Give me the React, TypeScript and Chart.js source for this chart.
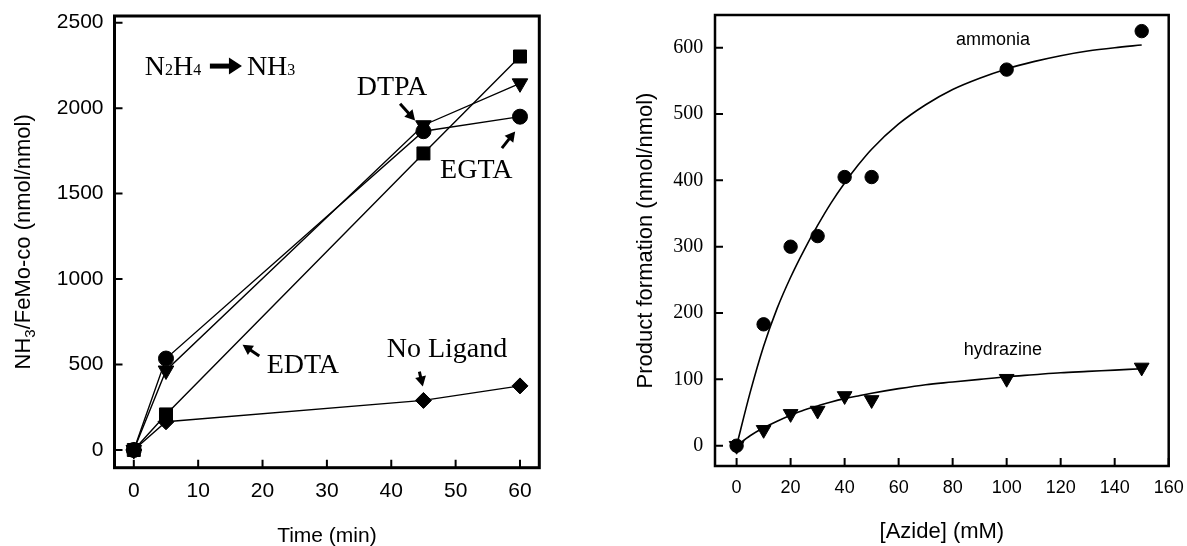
import React, { useEffect, useRef } from 'react';
import { Chart, registerables } from 'chart.js';

Chart.register(...registerables);

// ---------- Left panel data: N2H4 -> NH3 ----------
const TIME_MIN = [0, 5, 45, 60];
const EGTA = [0, 535, 1865, 1950];
const DTPA = [0, 465, 1900, 2145];
const EDTA = [0, 208, 1735, 2302];
const NO_LIGAND = [0, 165, 290, 375];
const LEFT_X_TICKS = [0, 10, 20, 30, 40, 50, 60];
const LEFT_Y_TICKS = [0, 500, 1000, 1500, 2000, 2500];

// ---------- Right panel data: azide ----------
const AZIDE_MM = [0, 10, 20, 30, 40, 50, 100, 150];
const AMMONIA = [0, 183, 300, 316, 405, 405, 567, 625];
const HYDRAZINE = [0, 24, 48, 53, 75, 69, 101, 118];
const FIT_AZIDE = [0, 5, 10, 15, 20, 25, 30, 35, 40, 45, 50, 60, 70, 80, 90, 100, 110, 120, 130, 140, 150];
const AMMONIA_FIT = [0, 80, 150, 207, 254, 295, 332, 366, 396, 423, 447, 485, 514, 537, 554, 568, 579, 588, 595, 600, 604];
const HYDRAZINE_FIT = [0, 15, 27, 37, 46, 54, 60, 66, 71, 75, 79, 86, 92, 96, 100, 104, 107, 110, 112, 114, 116];
const RIGHT_X_TICKS = [0, 20, 40, 60, 80, 100, 120, 140, 160];
const RIGHT_Y_TICKS = [0, 100, 200, 300, 400, 500, 600];

const SANS = '"Liberation Sans", Arial, sans-serif';
const SERIF = '"Liberation Serif", "Times New Roman", serif';

type Part = [string, boolean];

const toXY = (xs: number[], ys: number[]) => xs.map((x, i) => ({ x, y: ys[i] }));

function drawRich(
  ctx: CanvasRenderingContext2D,
  parts: Part[],
  x: number,
  y: number,
  size: number,
  subSize: number,
  subDrop: number,
  family: string,
  align: 'left' | 'center'
) {
  const widths = parts.map(([t, sub]) => {
    ctx.font = `${sub ? subSize : size}px ${family}`;
    return ctx.measureText(t).width;
  });
  const total = widths.reduce((a, b) => a + b, 0);
  let cx = align === 'center' ? x - total / 2 : x;
  ctx.textAlign = 'left';
  ctx.textBaseline = 'alphabetic';
  parts.forEach(([t, sub], i) => {
    ctx.font = `${sub ? subSize : size}px ${family}`;
    ctx.fillText(t, cx, y + (sub ? subDrop : 0));
    cx += widths[i];
  });
}

function drawArrow(
  ctx: CanvasRenderingContext2D,
  x1: number, y1: number, x2: number, y2: number,
  shaftW: number, headL: number, headW: number
) {
  const ang = Math.atan2(y2 - y1, x2 - x1);
  const bx = x2 - Math.cos(ang) * headL;
  const by = y2 - Math.sin(ang) * headL;
  ctx.lineWidth = shaftW;
  ctx.lineCap = 'butt';
  ctx.beginPath();
  ctx.moveTo(x1, y1);
  ctx.lineTo(bx + Math.cos(ang), by + Math.sin(ang));
  ctx.stroke();
  ctx.beginPath();
  ctx.moveTo(x2, y2);
  ctx.lineTo(bx + Math.sin(ang) * headW / 2, by - Math.cos(ang) * headW / 2);
  ctx.lineTo(bx - Math.sin(ang) * headW / 2, by + Math.cos(ang) * headW / 2);
  ctx.closePath();
  ctx.fill();
}

function framePlugin(id: string, frameW: number, tickW: number, tickLen: number, xTicks: number[], yTicks: number[], extra: (chart: any) => void) {
  return {
    id,
    afterDraw(chart: any) {
      const { ctx, chartArea: a, scales } = chart;
      ctx.save();
      ctx.strokeStyle = '#000';
      ctx.fillStyle = '#000';
      ctx.lineWidth = tickW;
      ctx.beginPath();
      for (const t of xTicks) {
        const px = scales.x.getPixelForValue(t);
        ctx.moveTo(px, a.bottom);
        ctx.lineTo(px, a.bottom - tickLen);
      }
      for (const t of yTicks) {
        const py = scales.y.getPixelForValue(t);
        ctx.moveTo(a.left, py);
        ctx.lineTo(a.left + tickLen, py);
      }
      ctx.stroke();
      ctx.lineWidth = frameW;
      ctx.strokeRect(a.left, a.top, a.right - a.left, a.bottom - a.top);
      extra(chart);
      ctx.restore();
    },
  };
}

// annotation positions (data coordinates)
const LEFT_LABELS = [
  { text: 'DTPA', x: 34.63, y: 2078 },
  { text: 'EGTA', x: 47.59, y: 1591 },
  { text: 'EDTA', x: 20.64, y: 452 },
  { text: 'No Ligand', x: 39.3, y: 546 },
];
const LEFT_ARROWS = [
  { x1: 41.37, y1: 2026, x2: 43.7, y2: 1928 },
  { x1: 57.19, y1: 1766, x2: 59.25, y2: 1864 },
  { x1: 19.49, y1: 550, x2: 16.9, y2: 615 },
  { x1: 44.37, y1: 458, x2: 44.9, y2: 371 },
];

function lineSeries(label: string, ys: number[], style: string, radius: number, rotation = 0) {
  return {
    label,
    data: toXY(TIME_MIN, ys),
    showLine: true,
    borderColor: '#000',
    borderWidth: 1.4,
    pointStyle: style,
    pointRadius: radius,
    pointHoverRadius: radius,
    pointRotation: rotation,
    pointBackgroundColor: '#000',
    pointBorderColor: '#000',
    pointBorderWidth: 1,
    fill: false,
    tension: 0,
  };
}

function axisGrid(offset: number) {
  return { display: false, drawTicks: true, tickLength: offset };
}

function leftConfig(): any {
  return {
    type: 'line',
    data: {
      datasets: [
        lineSeries('No Ligand', NO_LIGAND, 'rectRot', 8),
        lineSeries('EDTA', EDTA, 'rect', 9.2),
        lineSeries('DTPA', DTPA, 'triangle', 9, 180),
        lineSeries('EGTA', EGTA, 'circle', 7.5),
      ],
    },
    options: {
      responsive: false,
      animation: false,
      devicePixelRatio: 1,
      layout: { padding: { left: 0, top: 16, right: 580 - 539.3, bottom: 0 } },
      plugins: { legend: { display: false }, tooltip: { enabled: false } },
      events: [],
      scales: {
        x: {
          type: 'linear',
          min: -3,
          max: 63,
          afterBuildTicks: (s: any) => { s.ticks = LEFT_X_TICKS.map((value) => ({ value })); },
          afterFit: (s: any) => { s.height = 546 - 467.7; },
          grid: axisGrid(11.4),
          border: { display: false },
          ticks: { color: '#000', font: { family: SANS, size: 21 }, padding: 0, maxRotation: 0, autoSkip: false, callback: (v: any) => String(v) },
        },
        y: {
          type: 'linear',
          min: -103.6,
          max: 2539,
          afterBuildTicks: (s: any) => { s.ticks = LEFT_Y_TICKS.map((value) => ({ value })); },
          afterFit: (s: any) => { s.width = 114.5; },
          grid: axisGrid(11),
          border: { display: false },
          ticks: { color: '#000', font: { family: SANS, size: 21 }, padding: 0, autoSkip: false, callback: (v: any) => String(v) },
        },
      },
    },
    plugins: [
      framePlugin('leftFrame', 3, 2, 8, LEFT_X_TICKS, LEFT_Y_TICKS, (chart: any) => {
        const { ctx, chartArea: a, scales } = chart;
        const X = (v: number) => scales.x.getPixelForValue(v);
        const Y = (v: number) => scales.y.getPixelForValue(v);
        // axis titles
        ctx.fillStyle = '#000';
        ctx.font = `21px ${SANS}`;
        ctx.textAlign = 'center';
        ctx.textBaseline = 'alphabetic';
        ctx.fillText('Time (min)', (a.left + a.right) / 2, 542);
        ctx.save();
        ctx.translate(22, (a.top + a.bottom) / 2);
        ctx.rotate(-Math.PI / 2);
        drawRich(ctx, [['NH', false], ['3', true], ['/FeMo-co (nmol/nmol)', false]], 0, 7.8, 22, 15, 5, SANS, 'center');
        ctx.restore();
        // reaction label
        drawRich(ctx, [['N', false], ['2', true], ['H', false], ['4', true]], X(1.71), Y(2194), 28, 16, 0, SERIF, 'left');
        drawArrow(ctx, X(11.82), Y(2246), X(16.8), Y(2246), 5, 13, 17);
        drawRich(ctx, [['NH', false], ['3', true]], X(17.57), Y(2194), 28, 16, 0, SERIF, 'left');
        // labels
        ctx.font = `28px ${SERIF}`;
        ctx.textAlign = 'left';
        ctx.textBaseline = 'alphabetic';
        for (const l of LEFT_LABELS) ctx.fillText(l.text, X(l.x), Y(l.y));
        for (const ar of LEFT_ARROWS) drawArrow(ctx, X(ar.x1), Y(ar.y1), X(ar.x2), Y(ar.y2), 3, 10, 11);
      }),
    ],
  };
}

function rightConfig(): any {
  const pts = (label: string, ys: number[], style: string, radius: number, rotation = 0) => ({
    label,
    data: toXY(AZIDE_MM, ys),
    showLine: false,
    pointStyle: style,
    pointRadius: radius,
    pointHoverRadius: radius,
    pointRotation: rotation,
    pointBackgroundColor: '#000',
    pointBorderColor: '#000',
    pointBorderWidth: 1,
  });
  const fit = (label: string, ys: number[]) => ({
    label,
    data: toXY(FIT_AZIDE, ys),
    showLine: true,
    borderColor: '#000',
    borderWidth: 1.6,
    pointRadius: 0,
    pointHoverRadius: 0,
    fill: false,
    cubicInterpolationMode: 'monotone',
  });
  return {
    type: 'line',
    data: {
      datasets: [
        fit('ammonia fit', AMMONIA_FIT),
        fit('hydrazine fit', HYDRAZINE_FIT),
        pts('hydrazine', HYDRAZINE, 'triangle', 8.5, 180),
        pts('ammonia', AMMONIA, 'circle', 6.7),
      ],
    },
    options: {
      responsive: false,
      animation: false,
      devicePixelRatio: 1,
      layout: { padding: { left: 0, top: 15, right: 607 - 588.7, bottom: 0 } },
      plugins: { legend: { display: false }, tooltip: { enabled: false } },
      events: [],
      scales: {
        x: {
          type: 'linear',
          min: -8,
          max: 160,
          afterBuildTicks: (s: any) => { s.ticks = RIGHT_X_TICKS.map((value) => ({ value })); },
          afterFit: (s: any) => { s.height = 546 - 466; },
          grid: axisGrid(11.2),
          border: { display: false },
          ticks: { color: '#000', font: { family: SANS, size: 18 }, padding: 0, maxRotation: 0, autoSkip: false, callback: (v: any) => String(v) },
        },
        y: {
          type: 'linear',
          min: -30.6,
          max: 649.3,
          afterBuildTicks: (s: any) => { s.ticks = RIGHT_Y_TICKS.map((value) => ({ value })); },
          afterFit: (s: any) => { s.width = 135; },
          grid: axisGrid(11.7),
          border: { display: false },
          ticks: { color: '#000', font: { family: SERIF, size: 20 }, padding: 0, autoSkip: false, callback: (v: any) => String(v) },
        },
      },
    },
    plugins: [
      framePlugin('rightFrame', 2.5, 2, 8, RIGHT_X_TICKS, RIGHT_Y_TICKS, (chart: any) => {
        const { ctx, chartArea: a, scales } = chart;
        const X = (v: number) => scales.x.getPixelForValue(v);
        const Y = (v: number) => scales.y.getPixelForValue(v);
        ctx.fillStyle = '#000';
        ctx.font = `22px ${SANS}`;
        ctx.textAlign = 'center';
        ctx.textBaseline = 'alphabetic';
        ctx.fillText('[Azide] (mM)', (a.left + a.right) / 2, 538);
        ctx.save();
        ctx.translate(63.8, (a.top + a.bottom) / 2);
        ctx.rotate(-Math.PI / 2);
        ctx.fillText('Product formation (nmol/nmol)', 0, 7.9);
        ctx.restore();
        ctx.font = `18px ${SANS}`;
        ctx.textBaseline = 'middle';
        ctx.fillText('ammonia', X(94.9), Y(611.6));
        ctx.fillText('hydrazine', X(98.6), Y(144));
      }),
    ],
  };
}

export default function App() {
  const leftRef = useRef<HTMLCanvasElement>(null);
  const rightRef = useRef<HTMLCanvasElement>(null);
  useEffect(() => {
    const c1 = new Chart(leftRef.current as HTMLCanvasElement, leftConfig());
    const c2 = new Chart(rightRef.current as HTMLCanvasElement, rightConfig());
    return () => {
      c1.destroy();
      c2.destroy();
    };
  }, []);
  return (
    <div style={{ position: 'fixed', left: 0, top: 0, width: 1187, height: 546, background: '#fff' }}>
      <canvas ref={leftRef} width={580} height={546} style={{ position: 'absolute', left: 0, top: 0, width: 580, height: 546 }} />
      <canvas ref={rightRef} width={607} height={546} style={{ position: 'absolute', left: 580, top: 0, width: 607, height: 546 }} />
    </div>
  );
}
